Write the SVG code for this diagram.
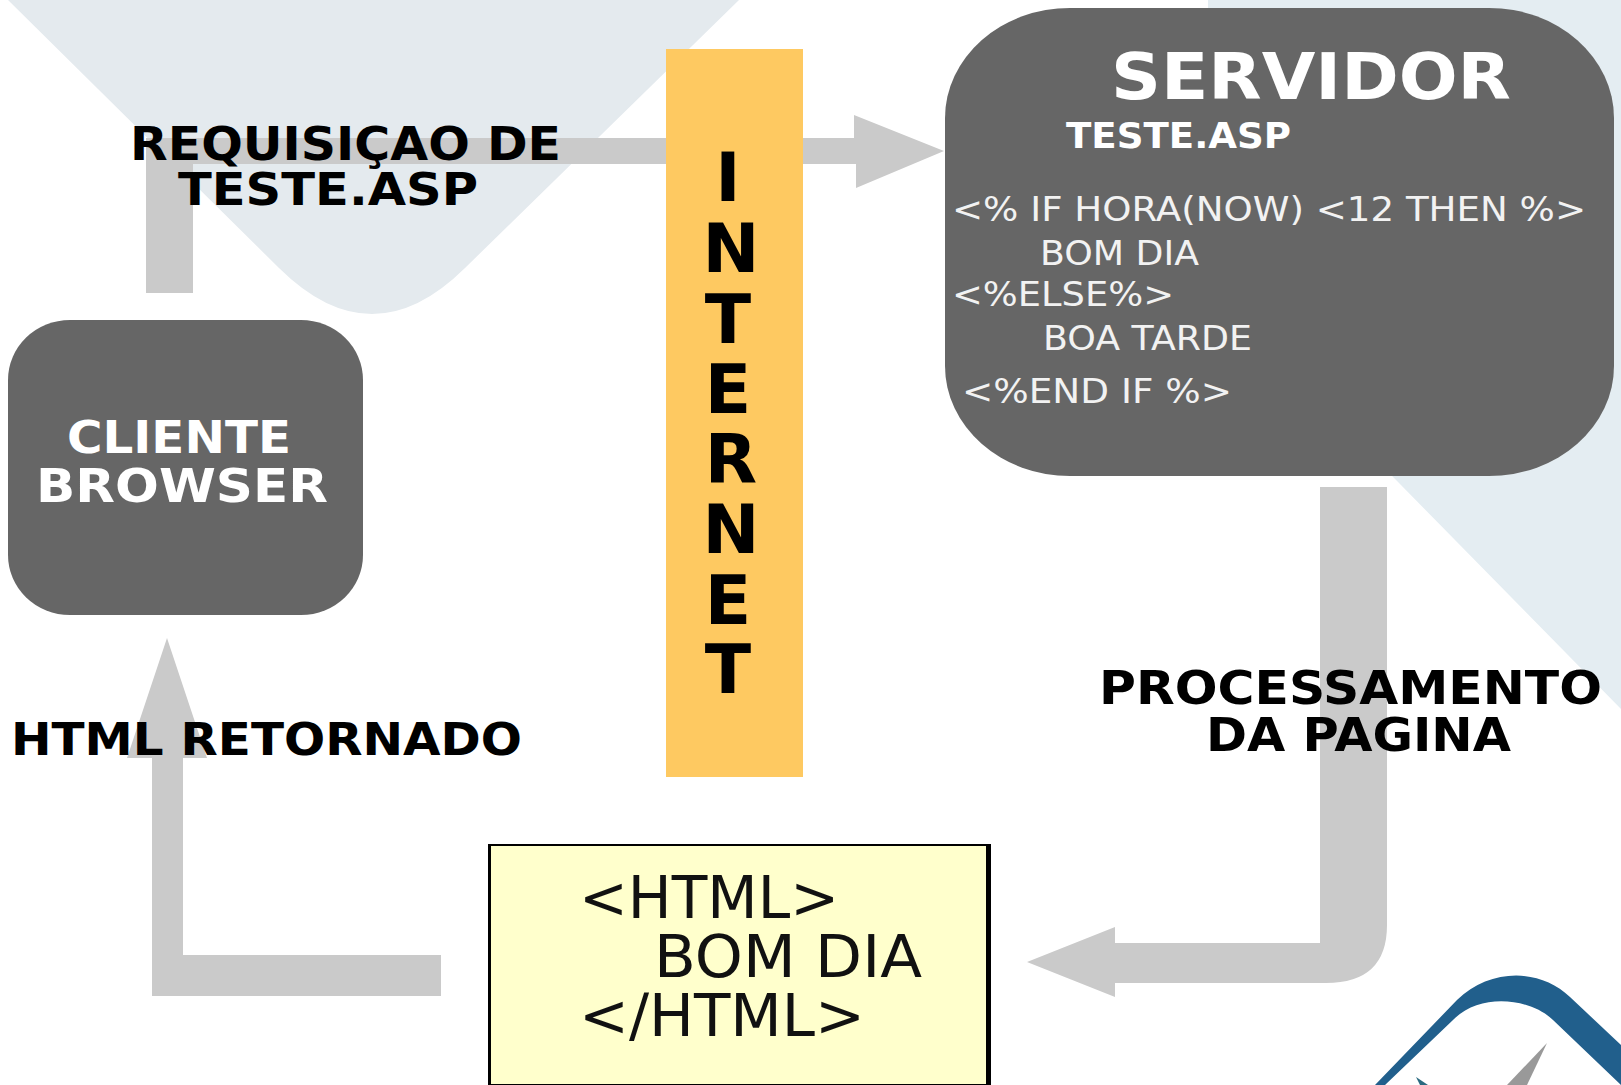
<svg xmlns="http://www.w3.org/2000/svg" width="1621" height="1085" viewBox="0 0 1621 1085">
<style>
.box{fill:#666666}
.arrow{fill:#cacaca}
.h{font-family:"DejaVu Sans","Liberation Sans",sans-serif;font-weight:700;fill:#000}
.w{fill:#fff}
.c{font-family:"DejaVu Sans","Liberation Sans",sans-serif;fill:#f2f2f2}
.k{font-family:"DejaVu Sans","Liberation Sans",sans-serif;fill:#111;font-size:58px}
</style>
<rect width="1621" height="1085" fill="#fff"/>
<g id="background">
<path d="M8 0H739L465 268Q372 360 279 268Z" fill="#e4eaee"/>
<path d="M1208 0H1621V709L1399 483L1208 290Z" fill="#e4edf2"/>
</g>
<g id="connectors">
<path class="arrow" d="M146 293V138H854V115L944 151L856 188V164H193V293Z"/>
<path class="arrow" d="M1320 487H1387V925Q1387 983 1326 983H1115V997L1027 962L1115 927V943H1320Z"/>
<path class="arrow" d="M441 955V996H152V758H127L167 638L207 758H183V955Z"/>
</g>
<g id="internet">
<rect x="666" y="49" width="137" height="728" fill="#fec961"/>
<g class="h" font-size="68" text-anchor="middle">
<text x="728" y="201">I</text>
<text x="731" y="272">N</text>
<text x="728" y="343">T</text>
<text x="728" y="413">E</text>
<text x="731" y="483">R</text>
<text x="731" y="553">N</text>
<text x="728" y="624">E</text>
<text x="728" y="693">T</text>
</g>
</g>
<g id="cliente">
<rect class="box" x="8" y="320" width="355" height="295" rx="62" ry="60"/>
<text class="h w" x="67" y="453" font-size="44" textLength="224" lengthAdjust="spacingAndGlyphs">CLIENTE</text>
<text class="h w" x="36" y="502" font-size="47" textLength="292" lengthAdjust="spacingAndGlyphs">BROWSER</text>
</g>
<g id="servidor">
<rect class="box" x="945" y="8" width="669" height="468" rx="125" ry="110"/>
<text class="h w" x="1111" y="99" font-size="64" textLength="400" lengthAdjust="spacingAndGlyphs">SERVIDOR</text>
<text class="h w" x="1066" y="148" font-size="36" textLength="225" lengthAdjust="spacingAndGlyphs">TESTE.ASP</text>
<text class="c" x="952" y="221" font-size="34" textLength="634" lengthAdjust="spacingAndGlyphs">&lt;% IF HORA(NOW) &lt;12 THEN %&gt;</text>
<text class="c" x="1040" y="265" font-size="33" textLength="159" lengthAdjust="spacingAndGlyphs">BOM DIA</text>
<text class="c" x="952" y="306" font-size="33" textLength="222" lengthAdjust="spacingAndGlyphs">&lt;%ELSE%&gt;</text>
<text class="c" x="1043" y="350" font-size="33" textLength="209" lengthAdjust="spacingAndGlyphs">BOA TARDE</text>
<text class="c" x="962" y="403" font-size="33" textLength="270" lengthAdjust="spacingAndGlyphs">&lt;%END IF %&gt;</text>
</g>
<g id="html-box">
<rect x="488" y="844" width="503" height="241" fill="#000"/>
<rect x="491" y="846" width="495" height="238" fill="#ffffcc"/>
<text class="k" x="579" y="918" textLength="260" lengthAdjust="spacingAndGlyphs">&lt;HTML&gt;</text>
<text class="k" x="654" y="977" textLength="268" lengthAdjust="spacingAndGlyphs">BOM DIA</text>
<text class="k" x="579" y="1036" textLength="286" lengthAdjust="spacingAndGlyphs">&lt;/HTML&gt;</text>
</g>
<g id="labels">
<text class="h" x="130" y="160" font-size="47" textLength="431" lengthAdjust="spacingAndGlyphs">REQUISIÇAO DE</text>
<text class="h" x="178" y="205" font-size="45" textLength="300" lengthAdjust="spacingAndGlyphs">TESTE.ASP</text>
<text class="h" x="11" y="755" font-size="45" textLength="511" lengthAdjust="spacingAndGlyphs">HTML RETORNADO</text>
<text class="h" x="1099" y="704" font-size="47" textLength="503" lengthAdjust="spacingAndGlyphs">PROCESSAMENTO</text>
<text class="h" x="1206" y="751" font-size="47" textLength="305" lengthAdjust="spacingAndGlyphs">DA PAGINA</text>
</g>
<g id="logo">
<path d="M1375 1085L1457 1000C1490 968 1540 968 1570 997L1621 1045V1085L1553 1020C1530 998 1480 992 1453 1020L1385 1085Z" fill="#215f8c"/>
<path d="M1547 1043L1507 1085H1527Z" fill="#999"/>
<path d="M1416 1077L1428 1085H1420Z" fill="#2a6a80"/>
</g>
</svg>
